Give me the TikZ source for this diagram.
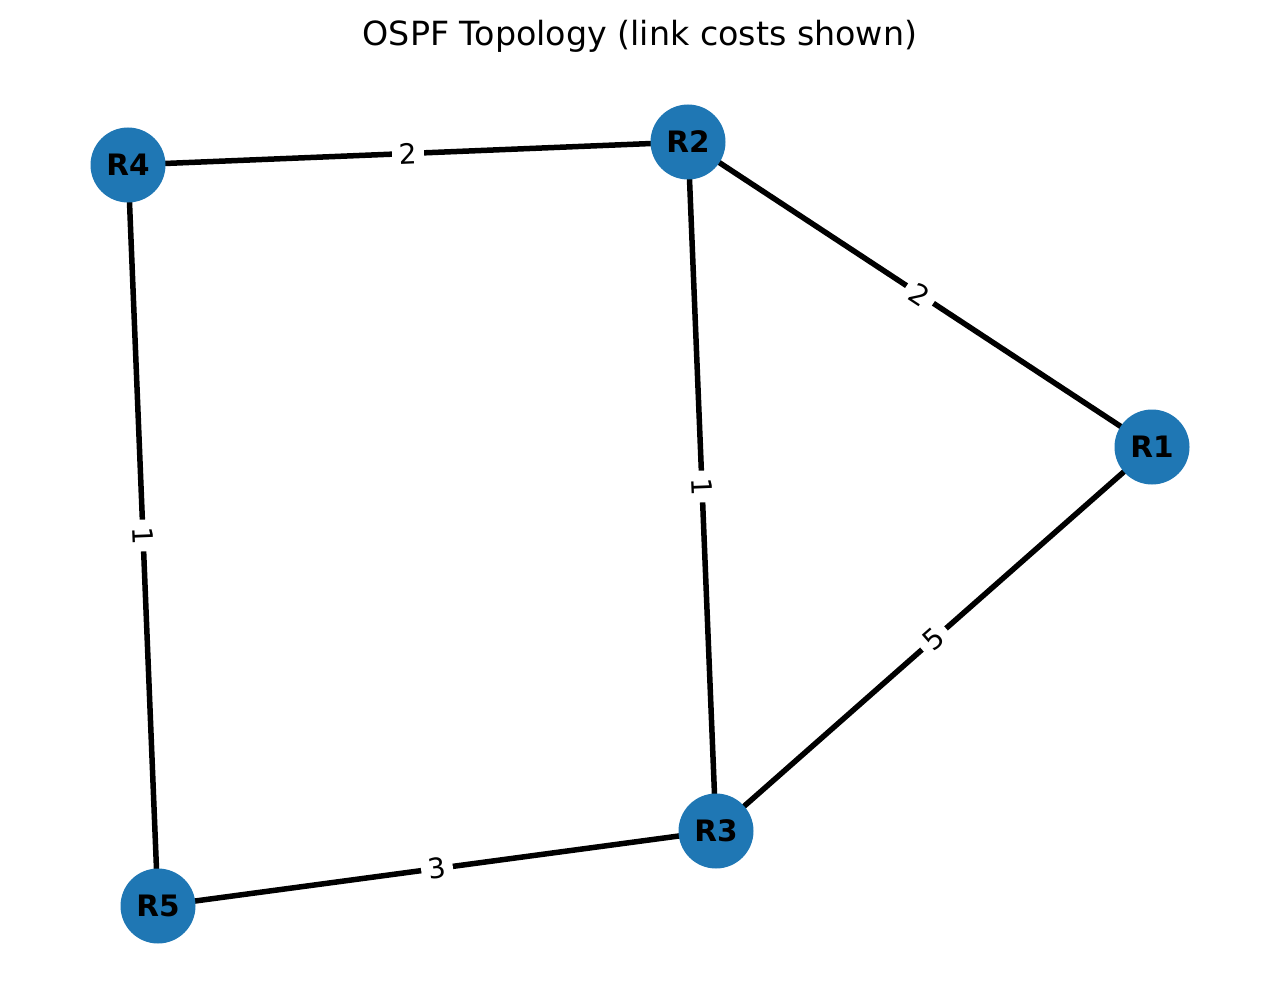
\documentclass[tikz,border=0pt]{standalone}
\usepackage{fontspec}
\setmainfont{DejaVu Sans}
\definecolor{tabblue}{HTML}{1F77B4}
\begin{document}
\begin{tikzpicture}[x=1pt,y=-1pt,
  router/.style={circle,fill=tabblue,minimum size=75pt,inner sep=0pt,font=\fontsize{29.5}{29.5}\selectfont\bfseries},
  link/.style={line width=5.5pt,black},
  cost/.style={fill=white,inner xsep=7pt,inner ysep=5pt,sloped,font=\fontsize{28}{28}\selectfont}]
\useasboundingbox (0,0) rectangle (1280,1006);
\node[font=\fontsize{33.3}{33.3}\selectfont] (title) at (640,36) {OSPF Topology (link costs shown)};
\coordinate (c4) at (128,165);
\coordinate (c2) at (688,142);
\coordinate (c1) at (1152,447);
\coordinate (c3) at (716,831);
\coordinate (c5) at (158,906);
\draw[link] (c4) -- node[cost]{2} (c2);
\draw[link] (c2) -- node[cost]{2} (c1);
\draw[link] (c2) -- node[cost]{1} (c3);
\draw[link] (c1) -- node[cost]{5} (c3);
\draw[link] (c4) -- node[cost]{1} (c5);
\draw[link] (c5) -- node[cost]{3} (c3);
\node[router] (R4) at (c4) {R4};
\node[router] (R2) at (c2) {R2};
\node[router] (R1) at (c1) {R1};
\node[router] (R3) at (c3) {R3};
\node[router] (R5) at (c5) {R5};
\end{tikzpicture}
\end{document}
